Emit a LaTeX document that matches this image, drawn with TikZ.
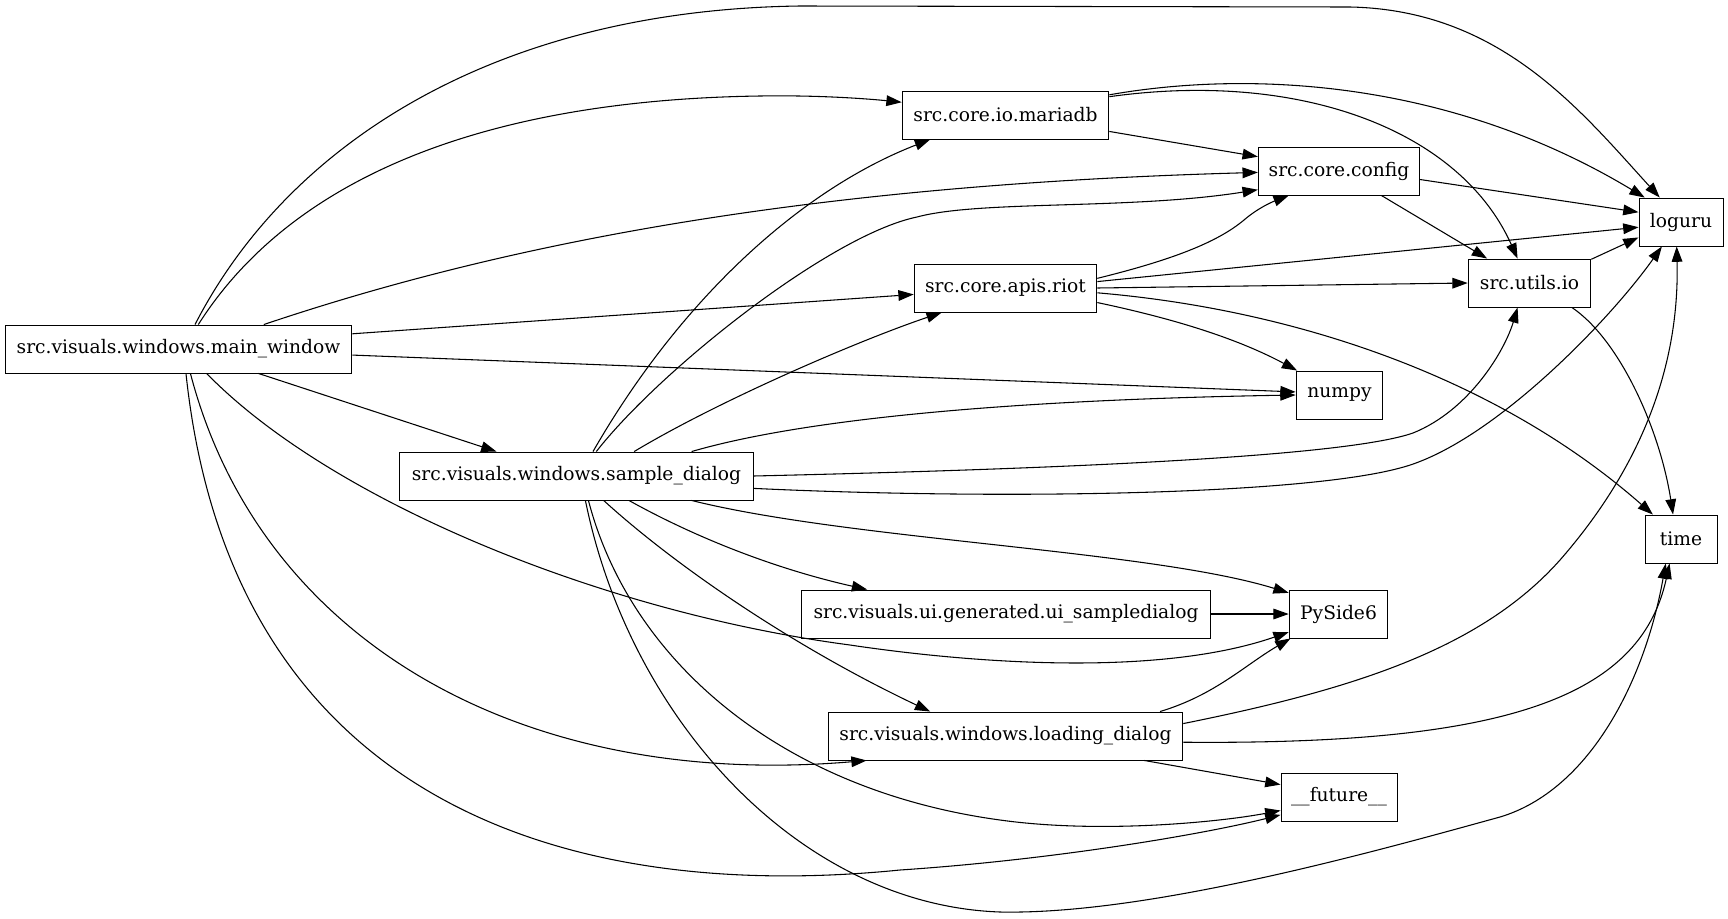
\documentclass[tikz,border=0pt]{standalone}
\usepackage{fontspec}
\setmainfont{DejaVu Serif}
\usetikzlibrary{arrows.meta}
\tikzset{
    module/.style={rectangle, draw, line width=0.7pt, minimum height=36pt,
                   inner xsep=4pt, align=center, font=\fontsize{14}{16}\selectfont},
    dep/.style={-{Triangle[length=11.5pt, width=8pt]}, line width=0.8pt},
}

\begin{document}
\begin{tikzpicture}[x=0.75pt, y=-0.75pt]

    \useasboundingbox (0,0) rectangle (1728,918);

    \node[module, minimum width=260pt] (mainwin) at (178.5,349) {src.visuals.windows.main\_window};
    \node[module, minimum width=265pt] (sample) at (576.5,476) {src.visuals.windows.sample\_dialog};

    \node[module, minimum width=155pt] (mariadb) at (1005.5,115) {src.core.io.mariadb};
    \node[module, minimum width=137pt] (riot) at (1005.5,288) {src.core.apis.riot};
    \node[module, minimum width=307pt] (uisample) at (1006,614) {src.visuals.ui.generated.ui\_sampledialog};
    \node[module, minimum width=266pt] (loading) at (1005.5,736) {src.visuals.windows.loading\_dialog};

    \node[module, minimum width=121pt] (config) at (1339,171) {src.core.config};
    \node[module, minimum width=65pt] (numpy) at (1339.5,395) {numpy};
    \node[module, minimum width=74pt] (pyside) at (1338.5,614) {PySide6};
    \node[module, minimum width=87pt] (future) at (1339,797) {\_\_future\_\_};

    \node[module, minimum width=92pt] (utilsio) at (1529.5,283) {src.utils.io};
    \node[module, minimum width=63pt] (loguru) at (1681,222) {loguru};
    \node[module, minimum width=54pt] (timemod) at (1681,539) {time};

    % main_window -> ...
    \draw[dep] (mainwin.56) .. controls (290,140) and (500,10) .. (800,6)
        -- (1350,7) .. controls (1500,10) and (1580,110) .. (loguru.131);
    \draw[dep] (mainwin.51) .. controls (290,180) and (480,100) .. (760,96)
        .. controls (820,95) and (870,99) .. (mariadb.173);
    \draw[dep] (mainwin.16) .. controls (500,245) and (800,185) .. (config.181);
    \draw[dep] (mainwin.5) -- (riot.184);
    \draw[dep] (mainwin.358) -- (numpy.176);
    \draw[dep] (mainwin.343) -- (sample.163);
    \draw[dep] (mainwin.319) .. controls (330,500) and (600,612) .. (850,645)
        .. controls (950,660) and (1150,680) .. (pyside.200);
    \draw[dep] (mainwin.296) .. controls (260,640) and (520,790) .. (loading.190);
    \draw[dep] (mainwin.287) .. controls (230,790) and (550,905) .. (900,870)
        .. controls (1050,860) and (1200,835) .. (future.197);

    % mariadb -> ...
    \draw[dep] (mariadb.11) .. controls (1250,70) and (1450,80) .. (loguru.146);
    \draw[dep] (mariadb.10) .. controls (1300,70) and (1460,130) .. (utilsio.116);
    \draw[dep] (mariadb.351) -- (config.170);

    % config -> ...
    \draw[dep] (config.354) -- (loguru.167);
    \draw[dep] (config.330) -- (utilsio.150);

    % riot -> ...
    \draw[dep] (riot.6) .. controls (1180,258) and (1220,240) .. (1244,220)
        .. controls (1258,208) and (1272,202) .. (config.206);
    \draw[dep] (riot.4) -- (loguru.187);
    \draw[dep] (riot.east) -- (utilsio.west);
    \draw[dep] (riot.351) .. controls (1180,320) and (1240,340) .. (numpy.150);
    \draw[dep] (riot.357) .. controls (1300,310) and (1500,380) .. (timemod.139);

    % utils.io -> ...
    \draw[dep] (utilsio.21) -- (loguru.200);
    \draw[dep] (utilsio.330) .. controls (1620,340) and (1660,430) .. (timemod.108);

    % sample_dialog -> ...
    \draw[dep] (sample.56) .. controls (680,300) and (800,190) .. (mariadb.198);
    \draw[dep] (sample.51) .. controls (660,370) and (830,235) .. (917,217)
        .. controls (980,200) and (1130,210) .. (config.193);
    \draw[dep] (sample.23) .. controls (720,400) and (860,340) .. (riot.201);
    \draw[dep] (sample.12) .. controls (800,420) and (1000,400) .. (numpy.west);
    \draw[dep] (sample.east) .. controls (1100,468) and (1350,455) .. (1413,433)
        .. controls (1470,410) and (1505,350) .. (utilsio.244);
    \draw[dep] (sample.356) .. controls (1000,500) and (1300,495) .. (1400,468)
        .. controls (1490,445) and (1610,320) .. (loguru.232);
    \draw[dep] (sample.348) .. controls (850,540) and (1150,550) .. (pyside.157);
    \draw[dep] (sample.335) .. controls (700,540) and (780,570) .. (uisample.170);
    \draw[dep] (sample.318) .. controls (680,570) and (800,650) .. (loading.162);
    \draw[dep] (sample.296) .. controls (630,660) and (780,790) .. (1000,820)
        .. controls (1100,834) and (1220,822) .. (future.193);
    \draw[dep] (sample.290) .. controls (630,720) and (800,905) .. (1000,912)
        .. controls (1150,915) and (1380,850) .. (1500,817)
        .. controls (1590,790) and (1645,680) .. (timemod.238);

    % ui_sampledialog -> PySide6
    \draw[dep] (uisample.east) -- (pyside.west);

    % loading_dialog -> ...
    \draw[dep] (loading.9) .. controls (1215,695) and (1245,665) .. (pyside.207);
    \draw[dep] (loading.4) .. controls (1350,690) and (1480,650) .. (1560,560)
        .. controls (1630,480) and (1680,380) .. (loguru.260);
    \draw[dep] (loading.358) .. controls (1500,745) and (1640,700) .. (timemod.245);
    \draw[dep] (loading.350) -- (future.168);

\end{tikzpicture}
\end{document}
